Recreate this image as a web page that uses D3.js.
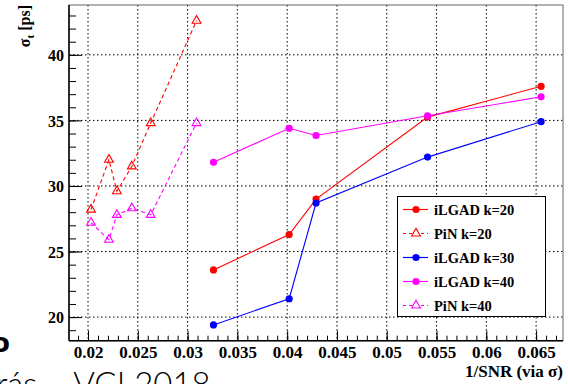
<!DOCTYPE html>
<html lang="en">
<head>
<meta charset="UTF-8">
<title>sigma_t vs 1/SNR</title>
<script src="https://d3js.org/d3.v7.min.js"></script>
<style>
  body { margin: 0; background: #fff; }
  .axis path { stroke: none; }
  .axis line { stroke: #000; }
  .grid line { stroke: #000; stroke-width: 1; stroke-dasharray: 1.5,2.5; }
</style>
</head>
<body>
<svg id="chart" width="568" height="384"></svg>
<script>
// data
const ilgadX = [0.0326, 0.0402, 0.0429, 0.0541, 0.0655];
const ilgad20 = [23.6, 26.3, 29.0, 35.25, 37.6];
const ilgad30 = [19.4, 21.4, 28.7, 32.2, 34.9];
const ilgad40 = [31.8, 34.4, 33.85, 35.35, 36.8];

const pinX = [0.0203, 0.0221, 0.0229, 0.0244, 0.0263, 0.0309];
const pin20 = [28.2, 32.0, 29.6, 31.5, 34.8, 42.6];
const pin40 = [27.2, 25.9, 27.8, 28.3, 27.8, 34.8];

const xTicks = [0.02, 0.025, 0.03, 0.035, 0.04, 0.045, 0.05, 0.055, 0.06, 0.065];
const yTicks = [20, 25, 30, 35, 40];

const series = [
  { name: "iLGAD k=20", x: ilgadX, y: ilgad20, color: "#ff0000", pin: false },
  { name: "PiN k=20",   x: pinX,   y: pin20,   color: "#ff0000", pin: true },
  { name: "iLGAD k=30", x: ilgadX, y: ilgad30, color: "#0000ff", pin: false },
  { name: "iLGAD k=40", x: ilgadX, y: ilgad40, color: "#ff00ff", pin: false },
  { name: "PiN k=40",   x: pinX,   y: pin40,   color: "#ff00ff", pin: true }
];

const serif = "'Liberation Serif', 'Times New Roman', Times, serif";
const pLeft = 69, pRight = 563, pTop = 5, pBottom = 340.7;

const svg = d3.select("#chart");

const x = d3.scaleLinear().domain([0.01809, 0.0677]).range([pLeft, pRight]);
const y = d3.scaleLinear().domain([18.2, 43.8]).range([pBottom, pTop]);

// grid
const grid = svg.append("g").attr("class", "grid");
grid.selectAll(".gx").data(xTicks).enter().append("line")
  .attr("x1", d => x(d)).attr("x2", d => x(d))
  .attr("y1", pTop).attr("y2", pBottom);
grid.selectAll(".gy").data(yTicks).enter().append("line")
  .attr("x1", pLeft).attr("x2", pRight)
  .attr("y1", d => y(d)).attr("y2", d => y(d));

// frame
svg.append("rect")
  .attr("x", pLeft).attr("y", pTop)
  .attr("width", pRight - pLeft).attr("height", pBottom - pTop)
  .attr("fill", "none").attr("stroke", "#666").attr("stroke-width", 1);

// minor ticks
const xMinor = d3.range(19, 68).map(d => d / 1000);
const yMinor = d3.range(19, 44);

svg.append("g").attr("class", "axis")
  .attr("transform", "translate(0," + pBottom + ")")
  .call(d3.axisBottom(x).tickValues(xMinor).tickSize(-5).tickFormat(""));
svg.append("g").attr("class", "axis")
  .attr("transform", "translate(" + pLeft + ",0)")
  .call(d3.axisLeft(y).tickValues(yMinor).tickSize(-7).tickFormat(""));

// major ticks + labels
svg.append("g").attr("class", "axis")
  .attr("transform", "translate(0," + pBottom + ")")
  .call(d3.axisBottom(x).tickValues(xTicks).tickSize(-10).tickFormat(d => String(+d.toFixed(3))))
  .attr("font-family", serif).attr("font-size", 17).attr("font-weight", "bold")
  .selectAll("text").attr("y", 17).attr("dy", "0").attr("fill", "#000");
svg.append("g").attr("class", "axis")
  .attr("transform", "translate(" + pLeft + ",0)")
  .call(d3.axisLeft(y).tickValues(yTicks).tickSize(-13).tickFormat(d3.format("d")))
  .attr("font-family", serif).attr("font-size", 16).attr("font-weight", "bold")
  .selectAll("text").attr("x", -5).attr("dy", "0.35em").attr("fill", "#000");

// axis lines
svg.append("line").attr("x1", pLeft).attr("x2", pLeft).attr("y1", pTop).attr("y2", pBottom)
  .attr("stroke", "#000").attr("stroke-width", 1.5);
svg.append("line").attr("x1", pLeft).attr("x2", pRight).attr("y1", pBottom).attr("y2", pBottom)
  .attr("stroke", "#000").attr("stroke-width", 1.5);

// axis titles
svg.append("text")
  .attr("x", pRight).attr("y", 377)
  .attr("text-anchor", "end")
  .attr("font-family", serif).attr("font-weight", "bold").attr("font-size", 17)
  .text("1/SNR (via σ)");

const yTitle = svg.append("text")
  .attr("transform", "translate(30," + pTop + ") rotate(-90)")
  .attr("text-anchor", "end")
  .attr("font-family", serif).attr("font-weight", "bold").attr("font-size", 16);
yTitle.append("tspan").text("σ");
yTitle.append("tspan").attr("dy", 4).attr("font-size", 11).text("t");
yTitle.append("tspan").attr("dy", -4).text(" [ps]");

// series
const line = d3.line().x(d => x(d[0])).y(d => y(d[1]));
const tri = d3.symbol().type(d3.symbolTriangle).size(34);

series.forEach(s => {
  const pts = s.x.map((v, i) => [v, s.y[i]]);
  svg.append("path")
    .datum(pts)
    .attr("d", line)
    .attr("fill", "none")
    .attr("stroke", s.color)
    .attr("stroke-width", 1.1)
    .attr("stroke-dasharray", s.pin ? "4,3" : null);
  if (s.pin) {
    svg.selectAll(null).data(pts).enter().append("path")
      .attr("d", tri)
      .attr("transform", d => "translate(" + x(d[0]) + "," + y(d[1]) + ")")
      .attr("fill", "none").attr("stroke", s.color).attr("stroke-width", 1.1);
  } else {
    svg.selectAll(null).data(pts).enter().append("circle")
      .attr("cx", d => x(d[0])).attr("cy", d => y(d[1])).attr("r", 3.6)
      .attr("fill", s.color);
  }
});

// legend
const lg = svg.append("g");
lg.append("rect")
  .attr("x", 397.5).attr("y", 196.5).attr("width", 148).attr("height", 120)
  .attr("fill", "#fff").attr("stroke", "#000").attr("stroke-width", 1);
series.forEach((s, i) => {
  const ly = 209.5 + i * 24;
  lg.append("line").attr("x1", 403).attr("x2", 428).attr("y1", ly).attr("y2", ly)
    .attr("stroke", s.color).attr("stroke-width", 1.2)
    .attr("stroke-dasharray", s.pin ? "3,3" : null);
  if (s.pin) {
    lg.append("path").attr("d", tri).attr("transform", "translate(416," + ly + ")")
      .attr("fill", "#fff").attr("stroke", s.color).attr("stroke-width", 1.1);
  } else {
    lg.append("circle").attr("cx", 416).attr("cy", ly).attr("r", 3.6).attr("fill", s.color);
  }
  lg.append("text").attr("x", 434).attr("y", ly + 5)
    .attr("font-family", serif).attr("font-weight", "bold").attr("font-size", 14.5)
    .text(s.name);
});

// slide fragments visible below the plot
svg.append("text")
  .attr("x", -8).attr("y", 352)
  .attr("font-family", "DejaVu Sans").attr("font-weight", "bold").attr("font-size", 26)
  .text("o");
svg.append("text")
  .attr("x", -4).attr("y", 396)
  .attr("font-family", "Lato").attr("font-weight", "300").attr("font-size", 33)
  .text("rás – VCI 2018");
</script>
</body>
</html>
